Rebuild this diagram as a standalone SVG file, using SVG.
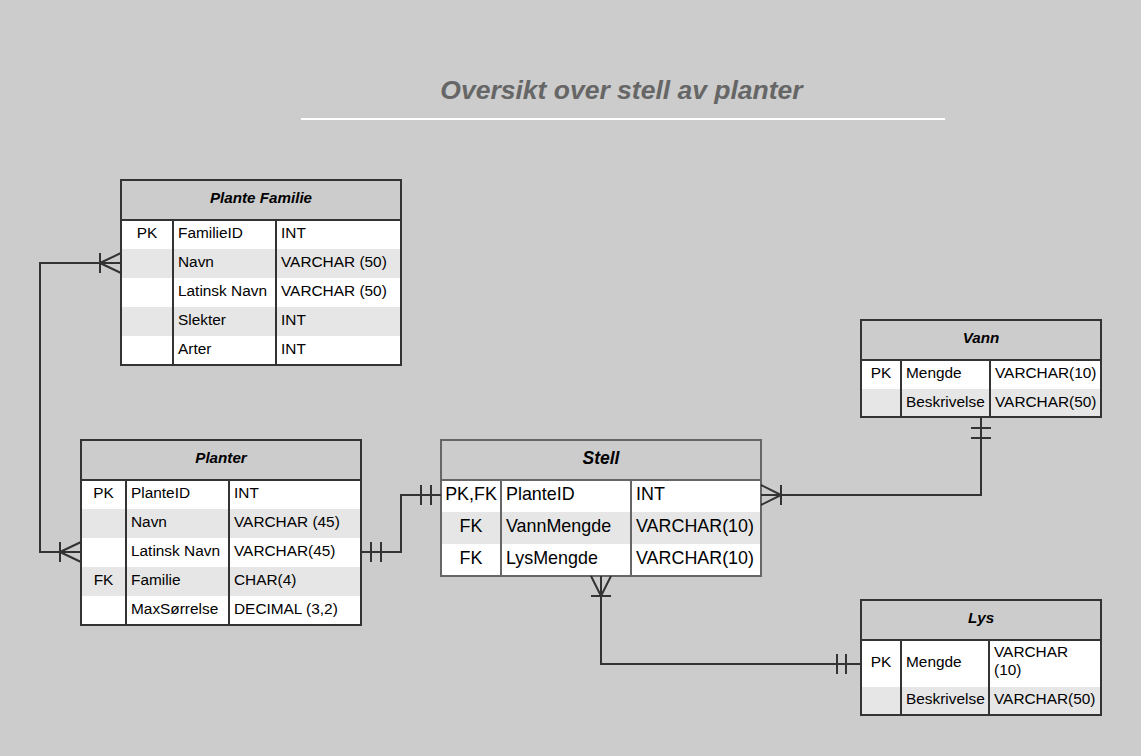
<svg xmlns="http://www.w3.org/2000/svg" width="1141" height="756" viewBox="0 0 1141 756">
<style>
.bg{fill:#cccccc}
.hdr{fill:#cccccc}
.w{fill:#ffffff}
.g{fill:#e6e6e6}
.bd{fill:none;stroke:#333333;stroke-width:2}
.bd2{fill:none;stroke:#666666;stroke-width:2}
.t{font-family:"Liberation Sans",Arial,sans-serif;font-size:15.4px;fill:#000000}
.tl{font-family:"Liberation Sans",Arial,sans-serif;font-size:17.9px;fill:#000000}
.c{text-anchor:middle}
.h{font-family:"Liberation Sans",Arial,sans-serif;font-size:15.2px;font-weight:bold;font-style:italic;text-anchor:middle;fill:#000000}
.conn{fill:none;stroke:#333333;stroke-width:2}
</style>
<rect class="bg" x="0" y="0" width="1141" height="756"/>
<g id="title">
<text x="621.5" y="99" style="font-family:'Liberation Sans',Arial,sans-serif;font-size:26.5px;font-weight:bold;font-style:italic;fill:#666666" text-anchor="middle">Oversikt over stell av planter</text>
<line x1="301" y1="119" x2="945" y2="119" stroke="#ffffff" stroke-width="2"/>
</g>
<g id="plante-familie">
<rect class="hdr" x="121" y="180" width="280" height="40"/>
<rect class="w" x="121" y="220" width="280" height="29"/>
<rect class="g" x="121" y="249" width="280" height="29"/>
<rect class="w" x="121" y="278" width="280" height="29"/>
<rect class="g" x="121" y="307" width="280" height="29"/>
<rect class="w" x="121" y="336" width="280" height="29"/>
<path class="bd" d="M121,220H401M173,220V365M276,220V365"/>
<rect class="bd" x="121" y="180" width="280" height="185"/>
<text class="h" x="261" y="203">Plante Familie</text>
<text class="t c" x="147" y="238">PK</text>
<text class="t" x="178" y="238">FamilieID</text><text class="t" x="281" y="238">INT</text>
<text class="t" x="178" y="267">Navn</text><text class="t" x="281" y="267">VARCHAR (50)</text>
<text class="t" x="178" y="296">Latinsk Navn</text><text class="t" x="281" y="296">VARCHAR (50)</text>
<text class="t" x="178" y="325">Slekter</text><text class="t" x="281" y="325">INT</text>
<text class="t" x="178" y="354">Arter</text><text class="t" x="281" y="354">INT</text>
</g>
<g id="planter">
<rect class="hdr" x="81" y="440" width="280" height="40"/>
<rect class="w" x="81" y="480" width="280" height="29"/>
<rect class="g" x="81" y="509" width="280" height="29"/>
<rect class="w" x="81" y="538" width="280" height="29"/>
<rect class="g" x="81" y="567" width="280" height="29"/>
<rect class="w" x="81" y="596" width="280" height="29"/>
<path class="bd" d="M81,480H361M126,480V625M229,480V625"/>
<rect class="bd" x="81" y="440" width="280" height="185"/>
<text class="h" x="221" y="463">Planter</text>
<text class="t c" x="103.5" y="498">PK</text>
<text class="t" x="131" y="498">PlanteID</text><text class="t" x="234" y="498">INT</text>
<text class="t" x="131" y="527">Navn</text><text class="t" x="234" y="527">VARCHAR (45)</text>
<text class="t" x="131" y="556">Latinsk Navn</text><text class="t" x="234" y="556">VARCHAR(45)</text>
<text class="t c" x="103.5" y="585">FK</text>
<text class="t" x="131" y="585">Familie</text><text class="t" x="234" y="585">CHAR(4)</text>
<text class="t" x="131" y="614">MaxSørrelse</text><text class="t" x="234" y="614">DECIMAL (3,2)</text>
</g>
<g id="stell">
<rect class="hdr" x="441" y="440" width="320" height="40"/>
<rect class="w" x="441" y="480" width="320" height="32"/>
<rect class="g" x="441" y="512" width="320" height="32"/>
<rect class="w" x="441" y="544" width="320" height="32"/>
<path class="bd2" d="M441,480H761M501,480V576M631,480V576"/>
<rect class="bd2" x="441" y="440" width="320" height="136"/>
<text class="h" x="601" y="464" style="font-size:17.5px">Stell</text>
<text class="tl c" x="471" y="500">PK,FK</text>
<text class="tl" x="506" y="500">PlanteID</text><text class="tl" x="636" y="500">INT</text>
<text class="tl c" x="471" y="532">FK</text>
<text class="tl" x="506" y="532">VannMengde</text><text class="tl" x="636" y="532">VARCHAR(10)</text>
<text class="tl c" x="471" y="564">FK</text>
<text class="tl" x="506" y="564">LysMengde</text><text class="tl" x="636" y="564">VARCHAR(10)</text>
</g>
<g id="vann">
<rect class="hdr" x="861" y="320" width="240" height="40"/>
<rect class="w" x="861" y="360" width="240" height="29"/>
<rect class="g" x="861" y="389" width="240" height="28"/>
<path class="bd" d="M861,360H1101M901,360V417M990,360V417"/>
<rect class="bd" x="861" y="320" width="240" height="97"/>
<text class="h" x="981" y="343">Vann</text>
<text class="t c" x="881" y="378">PK</text>
<text class="t" x="906" y="378">Mengde</text><text class="t" x="995" y="378">VARCHAR(10)</text>
<text class="t" x="906" y="407">Beskrivelse</text><text class="t" x="995" y="407">VARCHAR(50)</text>
</g>
<g id="lys">
<rect class="hdr" x="861" y="600" width="240" height="40"/>
<rect class="w" x="861" y="640" width="240" height="47"/>
<rect class="g" x="861" y="687" width="240" height="28"/>
<path class="bd" d="M861,640H1101M901,640V715M989,640V715"/>
<rect class="bd" x="861" y="600" width="240" height="115"/>
<text class="h" x="981" y="623">Lys</text>
<text class="t c" x="881" y="667">PK</text>
<text class="t" x="906" y="667">Mengde</text>
<text class="t" x="994" y="657">VARCHAR</text>
<text class="t" x="994" y="675">(10)</text>
<text class="t" x="906" y="704">Beskrivelse</text><text class="t" x="994" y="704">VARCHAR(50)</text>
</g>
<g id="connectors">
<path class="conn" d="M121,263H40V552H81"/>
<path class="conn" d="M100,263L121,253M100,263L121,273M100,253V273"/>
<path class="conn" d="M60,552L81,542M60,552L81,562M60,542V562"/>
<path class="conn" d="M361,552H401V495H441"/>
<path class="conn" d="M371,542V562M381,542V562M421,485V505M431,485V505"/>
<path class="conn" d="M761,495H981V417"/>
<path class="conn" d="M781,495L761,485M781,495L761,505M781,485V505"/>
<path class="conn" d="M971,428H991M971,438H991"/>
<path class="conn" d="M601,576V664H861"/>
<path class="conn" d="M601,596L591,576M601,596L611,576M591,596H611"/>
<path class="conn" d="M837,654V674M846,654V674"/>
</g>
</svg>
